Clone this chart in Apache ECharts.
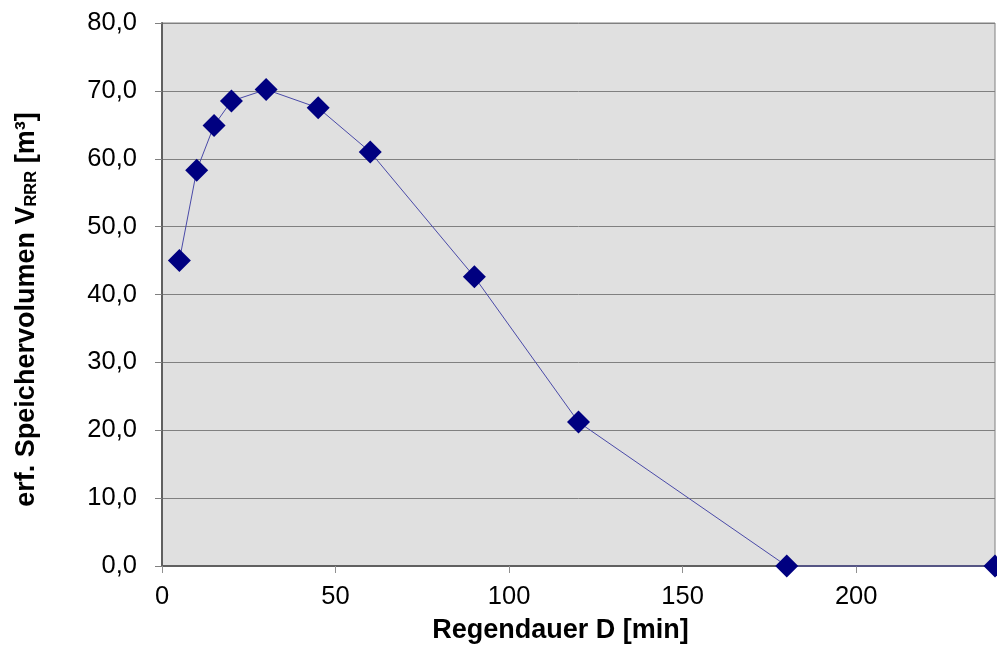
<!DOCTYPE html>
<html>
<head>
<meta charset="utf-8">
<script src="https://cdn.jsdelivr.net/npm/echarts@6/dist/echarts.min.js"></script>
<style>html,body{margin:0;padding:0;background:#fff;}#c{width:997px;height:645px;}</style>
</head>
<body>
<div id="c"></div>
<script>
const durations = [5, 10, 15, 20, 30, 45, 60, 90, 120, 180, 240];
const volumes = [45.0, 58.3, 64.9, 68.5, 70.2, 67.5, 61.0, 42.6, 21.2, 0.0, 0.0];
const xTicks = [0, 50, 100, 150, 200];

const chart = echarts.init(document.getElementById('c'));
const font = '"Liberation Sans", Arial, sans-serif';
chart.setOption({
  animation: false,
  grid: {
    left: 162, right: 2, top: 23, bottom: 79,
    outerBoundsMode: 'none', containLabel: false,
    show: true, backgroundColor: '#e0e0e0', borderColor: '#808080', borderWidth: 1
  },
  xAxis: {
    type: 'value', min: 0, max: 240,
    name: 'Regendauer D [min]', nameLocation: 'middle', nameGap: 51,
    nameTextStyle: { fontFamily: font, fontSize: 27, fontWeight: 'bold', color: '#000', padding: [0, 36, 0, 0] },
    axisLine: { show: true, onZero: false, lineStyle: { color: '#606060', width: 2 } },
    axisTick: { show: true, length: 7, lineStyle: { color: '#909090' }, customValues: xTicks },
    axisLabel: { fontFamily: font, fontSize: 25.5, color: '#000', margin: 18,
      customValues: xTicks },
    splitLine: { show: false }
  },
  yAxis: {
    type: 'value', min: 0, max: 80, interval: 10,
    name: '{a|erf. Speichervolumen V}{s|RRR}{a| [m³]}',
    nameLocation: 'middle', nameGap: 122, nameRotate: 90,
    nameTextStyle: {
      padding: [0, 30, 0, 0],
      rich: {
        a: { fontFamily: font, fontSize: 27, fontWeight: 'bold', color: '#000' },
        s: { fontFamily: font, fontSize: 16.5, fontWeight: 'bold', color: '#000', verticalAlign: 'bottom', padding: [10, 0, 0, 0] }
      }
    },
    axisLine: { show: true, lineStyle: { color: '#606060', width: 2 } },
    axisTick: { show: true, length: 7, lineStyle: { color: '#808080' } },
    axisLabel: { fontFamily: font, fontSize: 25.5, color: '#000', margin: 25,
      formatter: v => v.toFixed(1).replace('.', ',') },
    splitLine: { show: true, lineStyle: { color: '#808080', width: 1 } }
  },
  series: [{
    type: 'line',
    data: durations.map((d, i) => [d, volumes[i]]),
    symbol: 'diamond', symbolSize: 23,
    itemStyle: { color: '#000080' },
    lineStyle: { color: '#4a4aa8', width: 1 },
    clip: false,
    z: 5
  }]
});
</script>
</body>
</html>
